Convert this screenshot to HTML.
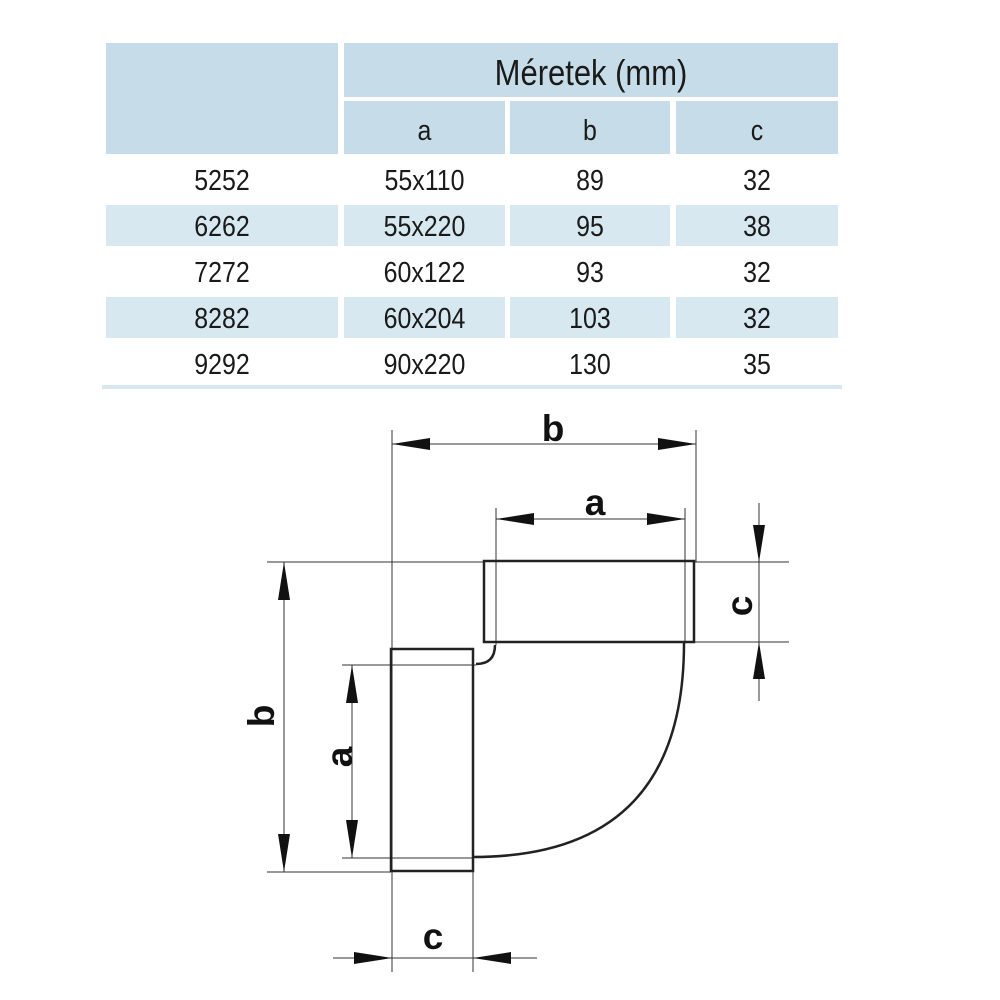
<!DOCTYPE html>
<html><head><meta charset="utf-8"><style>
body{margin:0;width:1000px;height:1000px;background:#fff;overflow:hidden;position:relative;font-family:"Liberation Sans",sans-serif}
.c{position:absolute;background:#c6dde9}
.s{position:absolute;background:#d7e8f1}
.t{position:absolute;text-align:center;color:#1a1a1a;font-size:29px;transform:scaleX(0.86);line-height:30px}
</style></head><body>
<div class="c" style="left:106px;top:43px;width:232px;height:111px"></div>
<div class="c" style="left:344px;top:43px;width:494px;height:54px"></div>
<div class="c" style="left:344px;top:101px;width:161px;height:53px"></div>
<div class="c" style="left:510px;top:101px;width:160px;height:53px"></div>
<div class="c" style="left:676px;top:101px;width:162px;height:53px"></div>
<div class="s" style="left:106px;top:205px;width:232px;height:41px"></div>
<div class="s" style="left:344px;top:205px;width:161px;height:41px"></div>
<div class="s" style="left:510px;top:205px;width:160px;height:41px"></div>
<div class="s" style="left:676px;top:205px;width:162px;height:41px"></div>
<div class="s" style="left:106px;top:297px;width:232px;height:41px"></div>
<div class="s" style="left:344px;top:297px;width:161px;height:41px"></div>
<div class="s" style="left:510px;top:297px;width:160px;height:41px"></div>
<div class="s" style="left:676px;top:297px;width:162px;height:41px"></div>
<div class="s" style="left:102px;top:385px;width:740px;height:4px"></div>
<div class="t" style="left:344px;top:54px;width:494px;font-size:36px;line-height:38px">Méretek (mm)</div>
<div class="t" style="left:344px;top:116px;width:161px">a</div>
<div class="t" style="left:510px;top:116px;width:160px">b</div>
<div class="t" style="left:676px;top:116px;width:162px">c</div>
<div class="t" style="left:106px;top:166px;width:232px">5252</div><div class="t" style="left:344px;top:166px;width:161px">55x110</div><div class="t" style="left:510px;top:166px;width:160px">89</div><div class="t" style="left:676px;top:166px;width:162px">32</div>
<div class="t" style="left:106px;top:212px;width:232px">6262</div><div class="t" style="left:344px;top:212px;width:161px">55x220</div><div class="t" style="left:510px;top:212px;width:160px">95</div><div class="t" style="left:676px;top:212px;width:162px">38</div>
<div class="t" style="left:106px;top:258px;width:232px">7272</div><div class="t" style="left:344px;top:258px;width:161px">60x122</div><div class="t" style="left:510px;top:258px;width:160px">93</div><div class="t" style="left:676px;top:258px;width:162px">32</div>
<div class="t" style="left:106px;top:304px;width:232px">8282</div><div class="t" style="left:344px;top:304px;width:161px">60x204</div><div class="t" style="left:510px;top:304px;width:160px">103</div><div class="t" style="left:676px;top:304px;width:162px">32</div>
<div class="t" style="left:106px;top:350px;width:232px">9292</div><div class="t" style="left:344px;top:350px;width:161px">90x220</div><div class="t" style="left:510px;top:350px;width:160px">130</div><div class="t" style="left:676px;top:350px;width:162px">35</div>
<svg width="1000" height="1000" style="position:absolute;left:0;top:0">
<g stroke="#333" stroke-width="1" fill="none">
<line x1="392" y1="430" x2="392" y2="972"/>
<line x1="696" y1="430" x2="696" y2="562"/>
<line x1="496" y1="508" x2="496" y2="645"/>
<line x1="685" y1="508" x2="685" y2="643"/>
<line x1="267" y1="562" x2="484" y2="562"/>
<line x1="694" y1="562" x2="789" y2="562"/>
<line x1="694" y1="642" x2="789" y2="642"/>
<line x1="267" y1="872" x2="391" y2="872"/>
<line x1="342" y1="665" x2="476" y2="665"/>
<line x1="342" y1="858" x2="473" y2="858"/>
<line x1="473" y1="872" x2="473" y2="972"/>
<line x1="392" y1="444" x2="696" y2="444"/>
<line x1="496" y1="519" x2="685" y2="519"/>
<line x1="759" y1="503" x2="759" y2="701"/>
<line x1="284" y1="562" x2="284" y2="872"/>
<line x1="352" y1="665" x2="352" y2="858"/>
<line x1="333" y1="958" x2="537" y2="958"/>
</g>
<g fill="#111">
<polygon points="392,444 430,438 430,450"/><polygon points="696,444 658,438 658,450"/>
<polygon points="496,519 534,513 534,525"/><polygon points="685,519 647,513 647,525"/>
<polygon points="759,562 753,525 765,525"/><polygon points="759,642 753,679 765,679"/>
<polygon points="284,562 278,600 290,600"/><polygon points="284,872 278,834 290,834"/>
<polygon points="352,665 346,703 358,703"/><polygon points="352,858 346,820 358,820"/>
<polygon points="392,958 354,952 354,964"/><polygon points="473,958 511,952 511,964"/>
</g>
<g stroke="#222" stroke-width="2.5" fill="none">
<rect x="484" y="561" width="210" height="81"/>
<rect x="391" y="649" width="82" height="222"/>
<path d="M495,645 Q495,664 476,664"/>
<path d="M684,643 C684,780 620,857 473,857"/>
</g>
<g font-family="Liberation Sans" font-weight="bold" font-size="37" fill="#111" text-anchor="middle">
<text x="553" y="441">b</text>
<text x="595" y="515">a</text>
<text x="433" y="949">c</text>
<text transform="translate(752,606) rotate(-90)">c</text>
<text transform="translate(274,716) rotate(-90)">b</text>
<text transform="translate(352,757) rotate(-90)">a</text>
</g>
</svg>
</body></html>
